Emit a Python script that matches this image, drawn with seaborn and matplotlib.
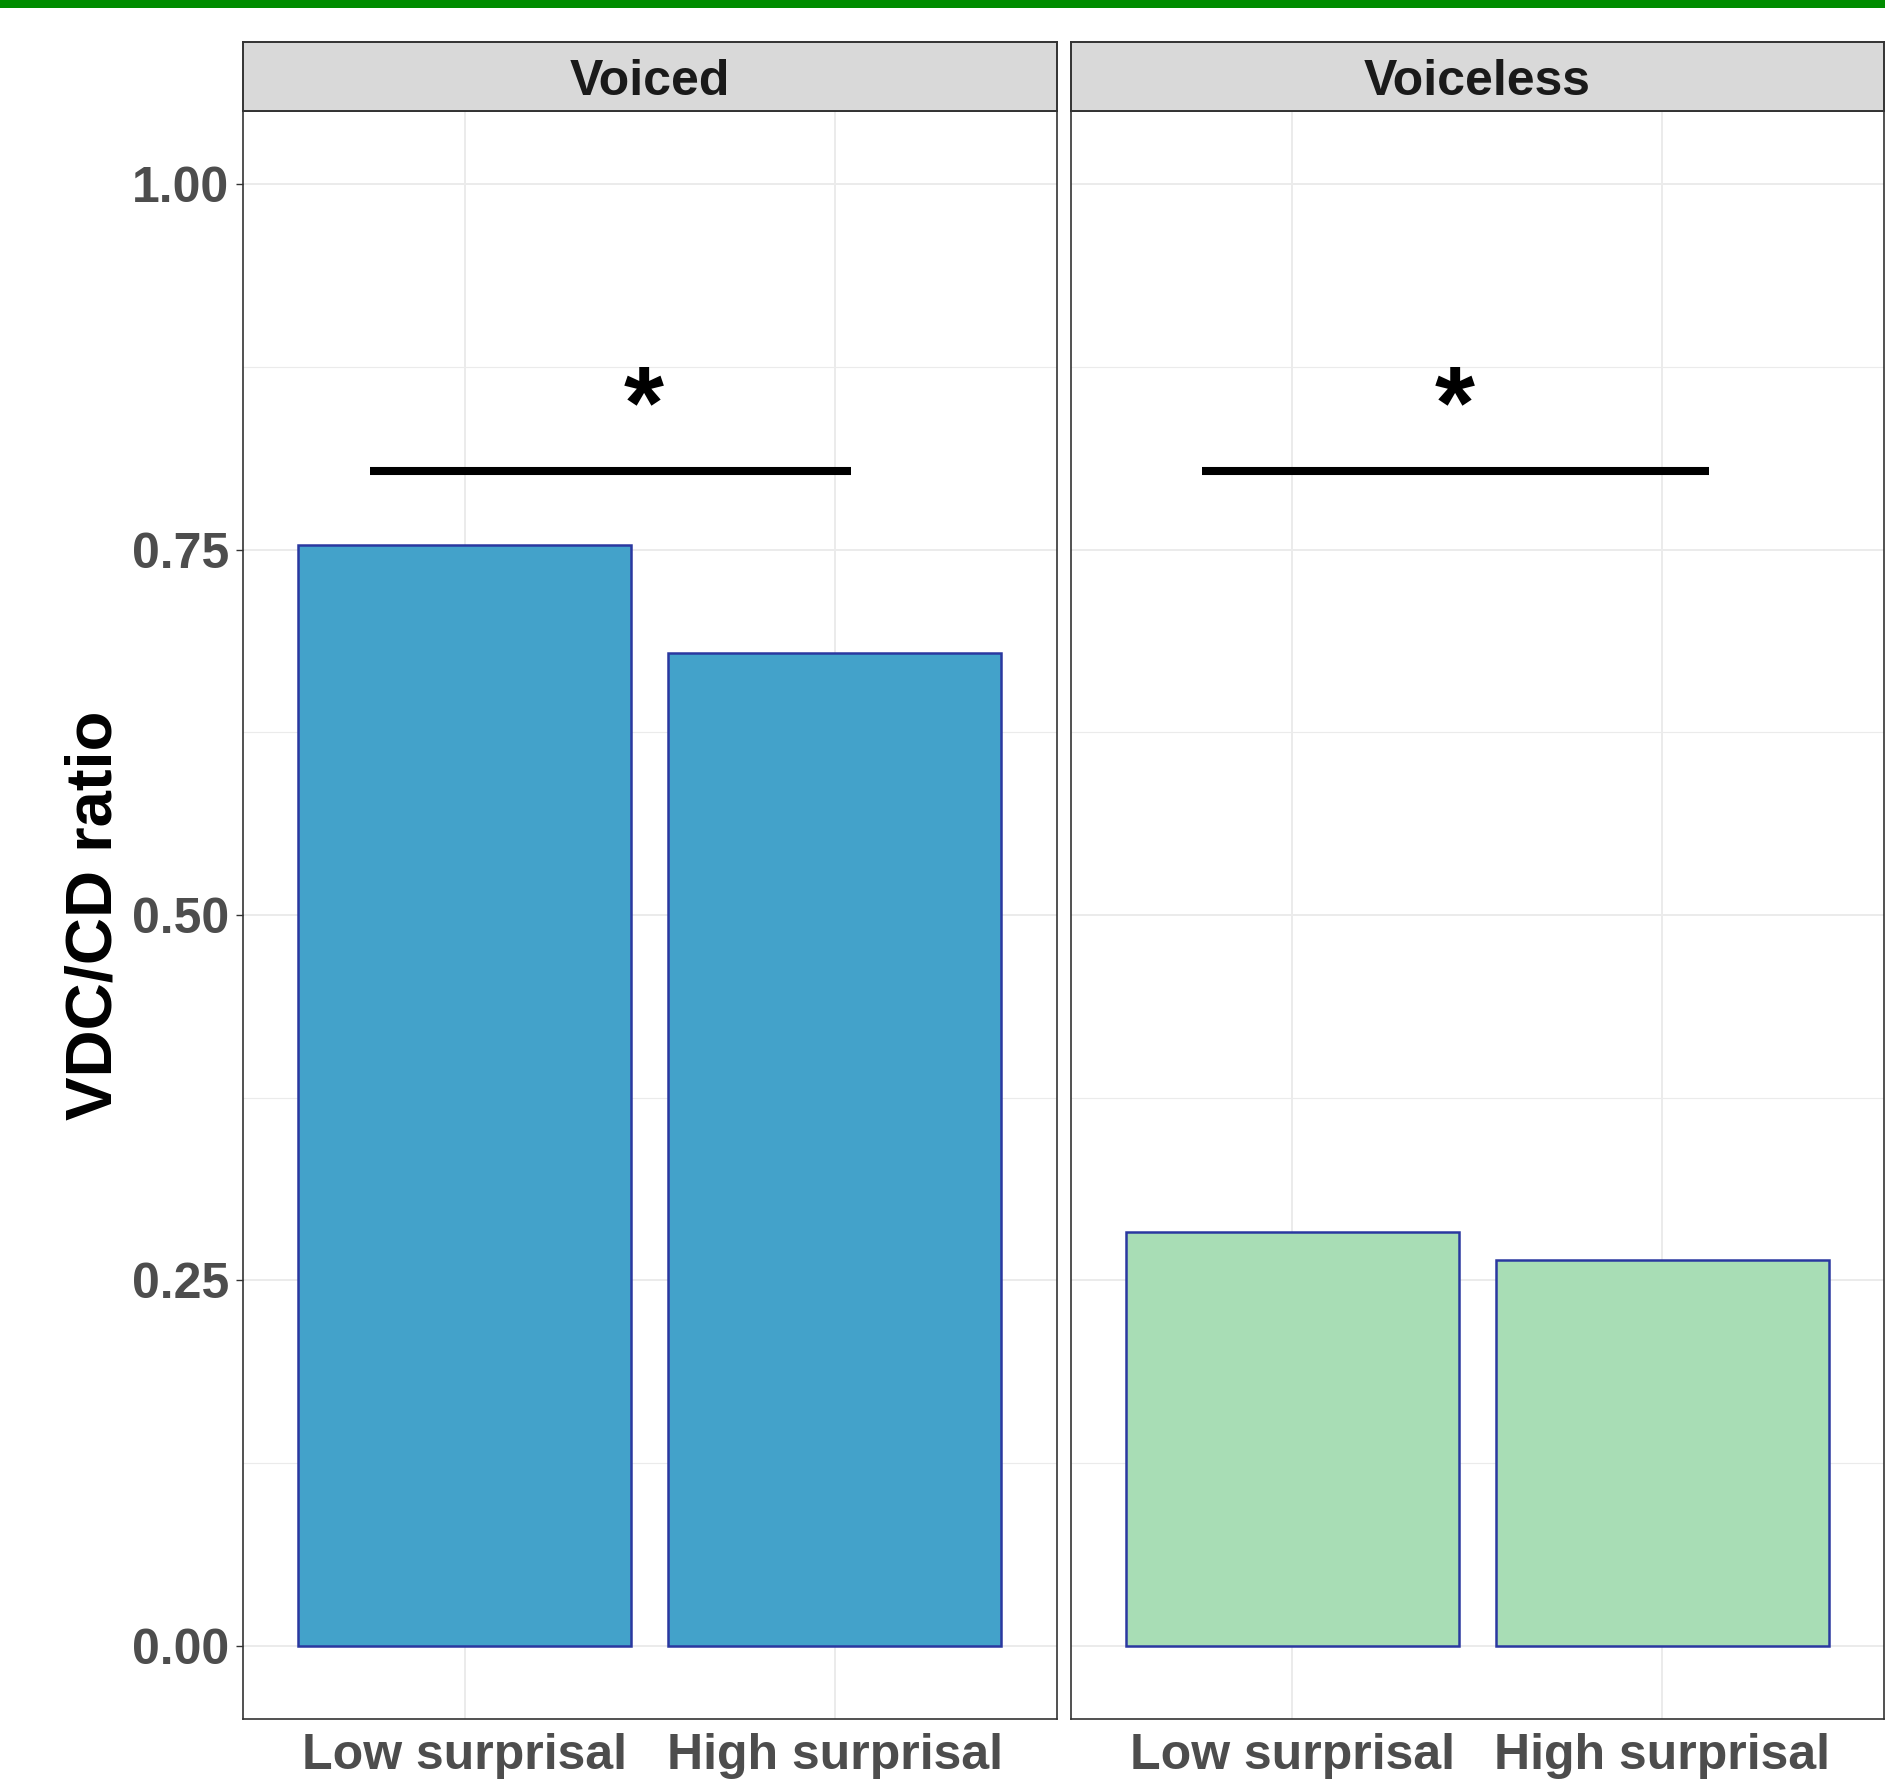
import numpy as np
import pandas as pd
import seaborn as sns
import matplotlib.pyplot as plt
from matplotlib.patches import Rectangle

# data
voicing = ['Voiced', 'Voiceless']
surprisal = ['Low surprisal', 'High surprisal']
voiced_ratio = [0.753, 0.679]
voiceless_ratio = [0.283, 0.264]
bar_colors = ['#43a2ca', '#a8ddb5']

# significance brackets (x in category units, 0 = Low, 1 = High)
sig_start = [-0.256, -0.244]
sig_end = [1.043, 1.127]
sig_y = [0.804, 0.804]
star_x = [0.483, 0.439]
star_y = [0.826, 0.826]

df = pd.DataFrame({
    'voicing': np.repeat(voicing, 2),
    'surprisal': surprisal * 2,
    'ratio': voiced_ratio + voiceless_ratio,
})

sns.set_theme(style='white')
plt.rcParams['font.family'] = ['Liberation Sans', 'DejaVu Sans']
plt.rcParams['font.weight'] = 'bold'

W, H = 1885, 1779
fig = plt.figure(figsize=(W / 100, H / 100), dpi=100)

def fx(px):
    return px / W

def fy(py):
    return 1 - py / H

# green rule along the top edge
fig.add_artist(Rectangle((0, fy(8)), 1, 8 / H, transform=fig.transFigure,
                         color='#008c00', lw=0))

panel_left = [243, 1070.5]
panel_w = 813.5
panel_top, panel_bot, strip_top = 111, 1719, 42
border = '#333333'

for i, v in enumerate(voicing):
    sub = df[df['voicing'] == v]
    ax = fig.add_axes([fx(panel_left[i]), fy(panel_bot), panel_w / W,
                       (panel_bot - panel_top) / H])
    sns.barplot(data=sub, x='surprisal', y='ratio', order=surprisal,
                color=bar_colors[i], saturation=1, edgecolor='#2a38a0',
                linewidth=1.8, width=0.9, errorbar=None, ax=ax)
    ax.set_xlim(-0.6, 1.6)
    ax.set_ylim(-0.05, 1.05)
    ax.set_yticks([0, 0.25, 0.5, 0.75, 1.0])
    ax.set_yticklabels(['0.00', '0.25', '0.50', '0.75', '1.00'])
    ax.set_yticks([0.125, 0.375, 0.625, 0.875], minor=True)
    ax.set_axisbelow(True)
    ax.grid(True, which='major', color='#ebebeb', lw=1.4)
    ax.yaxis.grid(True, which='minor', color='#ebebeb', lw=0.8)
    ax.set_xlabel('')
    ax.set_ylabel('')
    for s in ax.spines.values():
        s.set_color(border)
        s.set_linewidth(1.2)
    ax.tick_params(axis='both', which='major', length=5, width=1,
                   color=border, labelsize=36, labelcolor='#4d4d4d', pad=5)
    ax.tick_params(axis='y', which='minor', length=0)
    ax.tick_params(left=(i == 0), labelleft=(i == 0))
    for lab in ax.get_xticklabels() + ax.get_yticklabels():
        lab.set_fontweight('bold')

    # significance line and star
    ax.plot([sig_start[i], sig_end[i]], [sig_y[i], sig_y[i]], color='black',
            lw=5.8, solid_capstyle='butt')
    ax.text(star_x[i], star_y[i], '*', ha='center', va='baseline',
            fontsize=74, fontweight='bold', color='black')

    # facet strip
    sax = fig.add_axes([fx(panel_left[i]), fy(panel_top), panel_w / W,
                        (panel_top - strip_top) / H])
    sax.set_facecolor('#d9d9d9')
    sax.set_xticks([])
    sax.set_yticks([])
    for s in sax.spines.values():
        s.set_color(border)
        s.set_linewidth(1.4)
    sax.text(0.5, (panel_top - 95) / (panel_top - strip_top), v,
             transform=sax.transAxes, ha='center', va='baseline',
             fontsize=36, fontweight='bold', color='#1a1a1a')

fig.text(fx(111.7), fy(915.5), 'VDC/CD ratio', rotation=90,
         rotation_mode='anchor', ha='center', va='baseline',
         fontsize=47, fontweight='bold', color='black')

fig.savefig('out.png', dpi=100)
